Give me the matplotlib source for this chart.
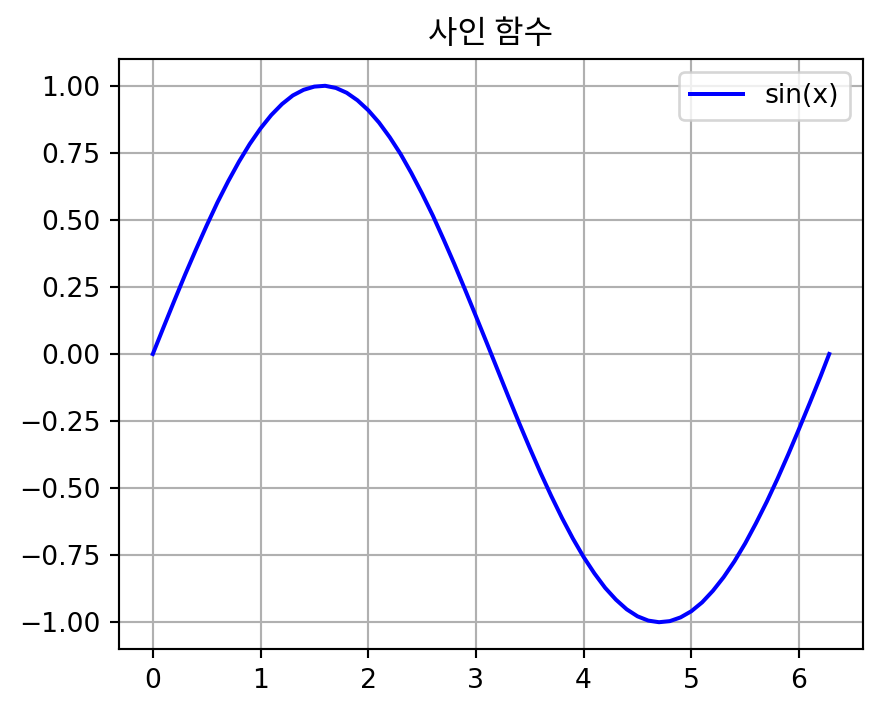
import matplotlib.pyplot as plt

# 그림에서 읽은 값 (x, sin(x))
x_vals = [0.0, 0.1, 0.2, 0.3, 0.4, 0.5, 0.6, 0.7, 0.8, 0.9,
          1.0, 1.1, 1.2, 1.3, 1.4, 1.5, 1.6, 1.7, 1.8, 1.9,
          2.0, 2.1, 2.2, 2.3, 2.4, 2.5, 2.6, 2.7, 2.8, 2.9,
          3.0, 3.1, 3.2, 3.3, 3.4, 3.5, 3.6, 3.7, 3.8, 3.9,
          4.0, 4.1, 4.2, 4.3, 4.4, 4.5, 4.6, 4.7, 4.8, 4.9,
          5.0, 5.1, 5.2, 5.3, 5.4, 5.5, 5.6, 5.7, 5.8, 5.9,
          6.0, 6.1, 6.2, 6.28]
y_vals = [0.0, 0.100, 0.199, 0.296, 0.389, 0.479, 0.565, 0.644, 0.717, 0.783,
          0.841, 0.891, 0.932, 0.964, 0.985, 0.997, 1.000, 0.992, 0.974, 0.946,
          0.909, 0.863, 0.808, 0.746, 0.675, 0.598, 0.516, 0.427, 0.335, 0.239,
          0.141, 0.042, -0.058, -0.158, -0.256, -0.351, -0.443, -0.530, -0.612, -0.688,
          -0.757, -0.818, -0.872, -0.916, -0.952, -0.978, -0.994, -1.000, -0.996, -0.982,
          -0.959, -0.926, -0.883, -0.832, -0.773, -0.706, -0.631, -0.551, -0.465, -0.374,
          -0.279, -0.182, -0.083, 0.0]

titulo = '사인 함수'
rotulo = 'sin(x)'

fig = plt.figure(figsize=(882 / 192, 714 / 192), dpi=192)
plt.subplots_adjust(left=0.1349, right=0.9785, top=0.9174, bottom=0.0910)
plt.plot(x_vals, y_vals, color='blue', label=rotulo)
plt.title(titulo, family=['Noto Sans CJK KR', 'DejaVu Sans'])
plt.legend(loc='upper right')
plt.grid()
plt.savefig('out.png', dpi=192)
